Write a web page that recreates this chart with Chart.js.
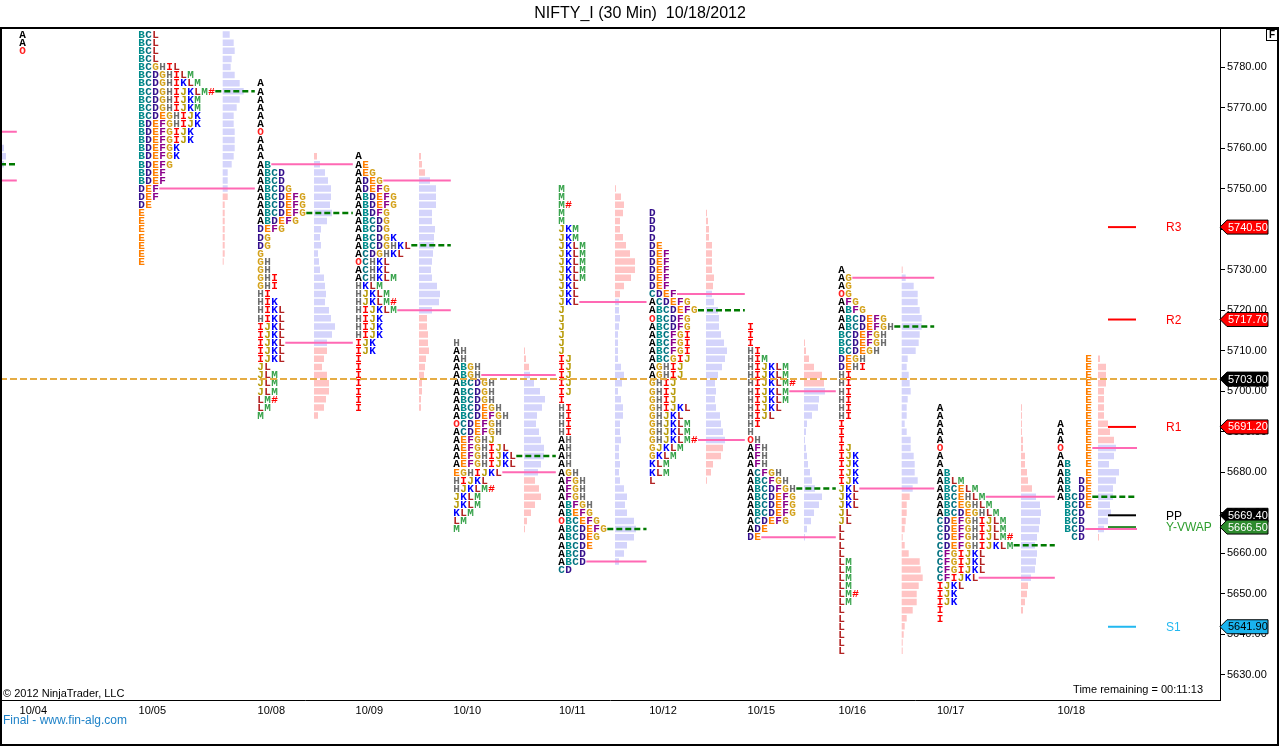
<!DOCTYPE html>
<html>
<head>
<meta charset="utf-8">
<title>NIFTY_I (30 Min) 10/18/2012</title>
<script src="https://cdn.jsdelivr.net/npm/chart.js@4.4.1/dist/chart.umd.min.js"></script>
<style>
  html, body { margin: 0; padding: 0; background: #fff; }
  #wrap { width: 1280px; height: 747px; position: relative; }
</style>
</head>
<body>
<div id="wrap"><canvas id="chart"></canvas></div>
<script>
/* ── Market profile data (NIFTY_I, 30 min TPOs) ─────────────────────────
   Every TPO row / volume bar is one 2-point price step, top row first.  */
const ROW = 2;

const sessionDates = ["10/03", "10/04", "10/05", "10/08", "10/09", "10/10",
                      "10/11", "10/12", "10/15", "10/16", "10/17", "10/18"];

/* top price of the TPO letters for each session */
const tpoTop = [null, 5788, 5788, 5776, 5758, 5712, 5750, 5744, 5716, 5730, 5696, 5708];

const tpo1003 = [];
const tpo1004 = ["A", "A", "O"];
const tpo1005 = ["BCL", "BCL", "BCL", "BCL", "BCGHIL", "BCDGHILM", "BCDGHIKLM", "BCDGHIJKLM#",
  "BCDGHIJKM", "BCDGHIJKM", "BCDEGHIJK", "BDEFGHIJK", "BDEFGIJK", "BDEFGIJK", "BDEFGK", "BDEFGK",
  "BDEFG", "BDEF", "BDEF", "DEF", "DEF", "DE", "E", "E", "E", "E", "E", "E", "E"];
const tpo1008 = ["A", "A", "A", "A", "A", "A", "O", "A", "A", "A", "AB", "ABCD", "ABCD", "ABCDG",
  "ABCDEFG", "ABCDEFG", "ABCDEFG", "ABDEFG", "DEFG", "DG", "DG", "G", "GH", "GH", "GHI", "GHI",
  "HI", "HIK", "HIKL", "HIKL", "IJKL", "IJKL", "IJKL", "IJKL", "IJKL", "JL", "JLM", "JLM", "JLM",
  "LM#", "LM", "M"];
const tpo1009 = ["A", "AE", "AEG", "ADEG", "ADEFG", "ABDEFG", "ABDEFG", "ABDFG", "ABCDG", "ABCDG",
  "ABCDGK", "ABCDGHKL", "ACDGHKL", "OCHKL", "ACHKL", "ACHKLM", "HKLM", "HJKLM", "HJKLM#", "HIJKLM",
  "HIJK", "HIJK", "HIJK", "IJK", "IJK", "I", "I", "I", "I", "I", "I", "I"];
const tpo1010 = ["H", "AH", "AH", "ABGH", "ABGH", "ABCDGH", "ABCDGH", "ABCDGH", "ABCDEGH", "ABCDEFGH",
  "OCDEFGH", "ACDEFGH", "AEFGHJ", "AEFGHIJL", "AEFGHIJKL", "AEFGHIJKL", "EGHIJKL", "HIJKL", "HJKLM#",
  "JKLM", "JKLM", "KLM", "LM", "M"];
const tpo1011 = ["M", "M", "M#", "M", "M", "JKM", "JKM", "JKLM", "JKLM", "JKLM", "JKLM", "JKLM", "JKL",
  "JKL", "JKL", "J", "J", "J", "J", "J", "J", "IJ", "IJ", "IJ", "IJ", "IJ", "I", "HI", "HI", "HI", "HI",
  "AH", "AH", "AH", "AH", "AGH", "AFGH", "AFGH", "AFGH", "ABFGH", "ABEFG", "OBCEFG", "ABCDEFG",
  "ABCDEG", "ABCDE", "ABCD", "ABCD", "CD"];
const tpo1012 = ["D", "D", "D", "D", "DE", "DEF", "DEF", "DEF", "DEF", "DEF", "CDEF", "ACDEFG", "ABCDEFG",
  "OBCDFG", "ABCDFG", "ABCFGI", "ABCFGI", "ABCFGI", "ABCGIJ", "AGHIJ", "AGHIJ", "GHIJ", "GHIJ", "GHIJ",
  "GHIJKL", "GHJKL", "GHJKLM", "GHJKLM", "GHJKLM#", "GJKLM", "GKLM", "KLM", "KLM", "L"];
const tpo1015 = ["I", "I", "I", "HI", "HIM", "HIJKLM", "HIJKLM", "HIJKLM#", "HIJKLM", "HIJKLM", "HIJKL",
  "HIJL", "HI", "H", "OH", "AFH", "AFH", "AFH", "ACFGH", "ABCFGH", "ABCDFGH", "ABCDEFG", "ABCDEFG",
  "ABCDEFG", "ACDEFG", "ADE", "DE"];
const tpo1016 = ["A", "AG", "AG", "OG", "AFG", "ABFG", "ABCDEFG", "ABCDEFGH", "BCDEFGH", "BCDEFGH",
  "BCDEGH", "DEGH", "DEHI", "HI", "HI", "HI", "HI", "HI", "HI", "I", "I", "I", "IJ", "IJK", "IJK", "IJK",
  "IJK", "JKL", "JKL", "JKL", "JL", "JL", "L", "L", "L", "L", "LM", "LM", "LM", "LM", "LM#", "LM",
  "L", "L", "L", "L", "L", "L"];
const tpo1017 = ["A", "A", "A", "A", "A", "O", "A", "A", "AB", "ABLM", "ABCELM", "ABCEHLM", "ABCEGHLM",
  "ABCDEGHLM", "CDEFGHIJLM", "CDEFGHIJLM", "CDEFGHIJLM#", "CDEFGHIJKLM", "CFGIJKL", "CFGIJKL",
  "CFGIJKL", "CFIJKL", "IJKL", "IJK", "IJK", "I", "I"];
/* developing session: letters stay in their own period column */
const tpo1018 = ["    E", "    E", "    E", "    E", "    E", "    E", "    E", "    E", "A   E", "A   E",
  "A   E", "O   E", "A   E", "AB  E", "AB  E", "AB DE", "AB DE", "ABCDE", " BCDE", " BCD", " BCD",
  " BCD", "  CD"];

const tpoRows = [tpo1003, tpo1004, tpo1005, tpo1008, tpo1009, tpo1010,
                 tpo1011, tpo1012, tpo1015, tpo1016, tpo1017, tpo1018];

/* volume profile: top price, relative volume per row, and side (b = blue, p = pink) */
const volTop = [5760, null, 5788, 5758, 5758, 5710, 5750, 5744, 5712, 5730, 5696, 5708];

const vol1003 = [4, 6, 4];
const vol1005 = [7, 11, 12, 9, 8, 12, 17, 21, 17, 14, 11, 11, 12, 12, 12, 11, 9, 5, 5, 5, 5, 2, 2, 2, 2, 2, 2, 2, 1];
const vol1008 = [3, 6, 11, 14, 17, 17, 16, 18, 13, 7, 6, 7, 4, 5, 6, 10, 11, 12, 11, 15, 17, 21, 18, 13,
  13, 10, 8, 13, 15, 15, 12, 10, 4];
const vol1009 = [2, 3, 6, 11, 17, 17, 17, 13, 13, 16, 15, 15, 14, 13, 12, 13, 18, 21, 20, 13, 8, 8, 9, 9,
  10, 7, 6, 5, 3, 3, 2, 2];
const vol1010 = [1, 2, 5, 6, 10, 16, 21, 18, 13, 12, 15, 17, 20, 20, 17, 14, 11, 15, 17, 11, 7, 3, 1];
const vol1011 = [1, 6, 9, 8, 5, 5, 8, 11, 15, 20, 20, 16, 9, 5, 4, 4, 5, 4, 3, 3, 3, 3, 6, 9, 7, 3, 6, 8,
  8, 5, 5, 6, 4, 4, 5, 4, 5, 9, 12, 10, 12, 19, 21, 19, 12, 9, 4];
const vol1012 = [1, 2, 3, 3, 6, 6, 6, 6, 8, 7, 6, 8, 12, 13, 13, 15, 18, 21, 19, 16, 12, 9, 10, 9, 10, 14,
  15, 17, 19, 17, 15, 7, 5, 1];
const vol1015 = [1, 2, 5, 10, 18, 20, 21, 15, 14, 8, 3, 2, 1, 2, 3, 4, 6, 8, 11, 18, 15, 10, 7, 3, 1];
const vol1016 = [1, 4, 12, 16, 16, 18, 20, 20, 18, 17, 14, 6, 5, 7, 8, 9, 6, 5, 5, 3, 5, 9, 9, 12, 13, 13,
  16, 11, 8, 5, 5, 4, 3, 1, 3, 7, 18, 19, 21, 17, 15, 15, 11, 5, 3, 2, 1, 1];
const vol1017 = [1, 1, 1, 1, 2, 2, 4, 4, 6, 7, 11, 15, 19, 20, 19, 18, 16, 14, 16, 15, 14, 10, 7, 6, 4, 2];
const vol1018 = [2, 8, 8, 8, 6, 6, 6, 6, 10, 12, 16, 18, 16, 11, 21, 18, 15, 15, 12, 13, 10, 6, 1];

const volRows = [vol1003, [], vol1005, vol1008, vol1009, vol1010,
                 vol1011, vol1012, vol1015, vol1016, vol1017, vol1018];

const volSide = [
  "bbb", "",
  "bbbbbbbbbbbbbbbbbbbbppppppppp",
  "pbbbbbbbbbbbbbbbbbbbbbbbppppppppp",
  "pppbbbbbbbbbbbbbbbbbpppppppppppp",
  "pppbbbbbbbbbbbbbppppppp",
  "ppppppppppppppbbbbbbbbbbbbbbbbbbbbbbbbbbbbbbbbb",
  "ppppppppppbbbbbbbbbbbbbbbbbbbppppp",
  "ppppppbbbbbbbbbbbbbbbbbbb",
  "pbbbbbbbbbbbbbbbbbbbbbbbbbbbpppppppppppppppppppp",
  "pppppppppppbbbbbbbbbbbpppp",
  "pppppppppppbbbbbbbbbbbp",
];

/* value area high, point of control, value area low */
const vaHigh = [5764, null, null, 5756, 5752, 5704, 5722, 5724, 5700, 5728, 5674, 5686];
const poc    = [5756, null, 5774, 5744, 5736, 5684, 5666, 5720, 5676, 5716, 5662, 5674];
const vaLow  = [5752, null, 5750, 5712, 5720, 5680, 5658, 5688, 5664, 5676, 5654, 5666];

/* floor pivots and yesterday's VWAP */
const pivotNames  = ["R3", "R2", "R1", "PP", "Y-VWAP", "S1"];
const pivotValues = [5740.5, 5717.7, 5691.2, 5669.4, 5666.5, 5641.9];
const lastPrice = 5703.0;

const yTicks = [5630, 5640, 5650, 5660, 5670, 5680, 5690, 5700, 5710, 5720, 5730, 5740, 5750, 5760, 5770, 5780];

/* ── Layout (horizontal positions in chart units = px of the plot) ───── */
const CHAR_W = 7;
const tpoX = [-120, 19.3, 138.3, 257.3, 355.3, 453.3, 558.3, 649, 747.3, 838.3, 936.7, 1057.3];
const volX = [0, 0, 222.7, 314, 419, 524, 615, 706, 804, 901.7, 1021, 1098];
const lastSessionEnd = 1137;
const pivotX = [1108, 1136];
const pivotLabelX = 1166;

const letterColor = {
  A: "#000000", B: "#008b8b", C: "#00707f", D: "#34108c", E: "#ff7f00", F: "#8b008b",
  G: "#d4a21c", H: "#6e6e6e", I: "#ff0000", J: "#b89c0c", K: "#0000ff", L: "#b22222",
  M: "#36a24a", O: "#ff2020", "#": "#ff0000",
};
const pivotColor  = ["#ff0000", "#ff0000", "#ff0000", "#000000", "#2e8b2e", "#22b8f0"];
const markerFill  = { R3: "#ff0000", R2: "#ff0000", R1: "#ff0000", PP: "#000000", "Y-VWAP": "#2e8b2e", S1: "#1ab4ee" };

/* ── Build line segments from the data ──────────────────────────────── */
function segs(list) {
  const pts = [];
  list.forEach(([x0, x1, p]) => pts.push({ x: x0, y: p }, { x: x1, y: p }, { x: x1, y: null }));
  return pts;
}

const volBlue = [], volPink = [];
volRows.forEach((bars, s) => {
  bars.forEach((v, b) => {
    const seg = [volX[s], volX[s] + v, volTop[s] - b * ROW];
    (volSide[s][b] === "p" ? volPink : volBlue).push(seg);
  });
});

function levelStart(s, price) {
  const r = tpoTop[s] == null ? -1 : Math.round((tpoTop[s] - price) / ROW);
  const row = tpoRows[s][r];
  return row ? tpoX[s] + row.trimEnd().length * CHAR_W : volX[s];
}
function sessionEnd(s) {
  return s < sessionDates.length - 1 ? tpoX[s + 1] - 2.5 : lastSessionEnd;
}

const vaSegs = [], pocSegs = [];
sessionDates.forEach((d, s) => {
  [vaHigh[s], vaLow[s]].forEach((p) => {
    if (p != null) vaSegs.push([levelStart(s, p), sessionEnd(s), p]);
  });
  if (poc[s] != null) pocSegs.push([levelStart(s, poc[s]), sessionEnd(s), poc[s]]);
});

function lineDs(label, data, color, width, dash, order) {
  return {
    label, data, showLine: true, borderColor: color, backgroundColor: color,
    borderWidth: width, borderDash: dash, borderCapStyle: "butt",
    pointRadius: 0, pointHoverRadius: 0, spanGaps: false, tension: 0, order,
  };
}

const datasets = [
  lineDs("last", segs([[0, 1220, lastPrice]]), "#e5ac44", 2, [7, 3], 0),
  lineDs("poc", segs(pocSegs), "#007a00", 2.5, [6, 3], 1),
  lineDs("va", segs(vaSegs), "#ff69b4", 2, [], 1),
  ...pivotNames.map((n, i) => lineDs(n, segs([[pivotX[0], pivotX[1], pivotValues[i]]]), pivotColor[i], 2, [], 1)),
  lineDs("volBlue", segs(volBlue), "#d4d4fb", 6.5, [], 2),
  lineDs("volPink", segs(volPink), "#ffc4c4", 6.5, [], 2),
];

/* ── Plugins ────────────────────────────────────────────────────────── */
const tpoLetters = {
  id: "tpoLetters",
  beforeDatasetDraw(chart, args) {
    if (args.index !== 0) return;
    const { ctx, scales: { x, y } } = chart;
    ctx.save();
    ctx.font = "bold 11px 'Liberation Mono', monospace";
    ctx.textBaseline = "middle";
    ctx.textAlign = "left";
    tpoRows.forEach((rows, s) => {
      rows.forEach((row, r) => {
        const py = y.getPixelForValue(tpoTop[s] - r * ROW) + 0.5;
        [...row].forEach((ch, c) => {
          if (ch === " ") return;
          ctx.fillStyle = letterColor[ch];
          ctx.fillText(ch, x.getPixelForValue(tpoX[s] + c * CHAR_W), py);
        });
      });
    });
    ctx.restore();
  },
};

function drawMarker(ctx, x, y, fill, textColor, text) {
  ctx.beginPath();
  ctx.moveTo(x, y);
  ctx.lineTo(x + 7, y - 7);
  ctx.lineTo(x + 48, y - 7);
  ctx.lineTo(x + 48, y + 7);
  ctx.lineTo(x + 7, y + 7);
  ctx.closePath();
  ctx.fillStyle = fill;
  ctx.fill();
  ctx.strokeStyle = "#000";
  ctx.lineWidth = 1;
  ctx.stroke();
  ctx.fillStyle = textColor;
  ctx.fillText(text, x + 8, y + 0.5);
}

const decorations = {
  id: "decorations",
  afterDraw(chart) {
    const { ctx, scales: { x, y } } = chart;
    ctx.save();
    ctx.font = "11px 'Liberation Sans', Arial, sans-serif";
    ctx.textBaseline = "middle";

    // pivot labels
    pivotNames.forEach((n, i) => {
      ctx.fillStyle = n === "Y-VWAP" ? "#2e9e2e" : pivotColor[i];
      ctx.font = "12px 'Liberation Sans', Arial, sans-serif";
      ctx.fillText(n, x.getPixelForValue(pivotLabelX), y.getPixelForValue(pivotValues[i]) + 1);
    });

    // price markers on the right axis
    ctx.font = "11px 'Liberation Sans', Arial, sans-serif";
    const ax = chart.chartArea.right;
    const markers = pivotNames.map((n, i) => ({ v: pivotValues[i], n }));
    markers.splice(2, 0, { v: lastPrice, n: "last" });
    markers.forEach((m) => {
      const fill = m.n === "last" ? "#000000" : markerFill[m.n];
      const tc = m.n === "S1" ? "#000000" : "#ffffff";
      drawMarker(ctx, ax, y.getPixelForValue(m.v), fill, tc, m.v.toFixed(2));
    });

    // texts
    ctx.fillStyle = "#000";
    ctx.fillText("\u00A9 2012 NinjaTrader, LLC", 3, 694);
    ctx.textAlign = "right";
    ctx.fillText("Time remaining = 00:11:13", 1203, 690);
    ctx.textAlign = "left";
    ctx.fillStyle = "#1e82c8";
    ctx.font = "12px 'Liberation Sans', Arial, sans-serif";
    ctx.fillText("Final - www.fin-alg.com", 3, 721);

    // "F" box
    ctx.strokeStyle = "#000";
    ctx.lineWidth = 1;
    ctx.strokeRect(1266.5, 29.5, 11, 11);
    ctx.fillStyle = "#000";
    ctx.font = "bold 10px 'Liberation Sans', Arial, sans-serif";
    ctx.textAlign = "center";
    ctx.fillText("F", 1272, 35.5);

    // outer frame
    ctx.lineWidth = 2;
    ctx.strokeRect(1, 28, 1277, 717);
    ctx.restore();
  },
};

/* ── Chart ──────────────────────────────────────────────────────────── */
new Chart(document.getElementById("chart"), {
  type: "scatter",
  data: { datasets },
  options: {
    responsive: true,
    maintainAspectRatio: false,
    animation: false,
    events: [],
    layout: { padding: 0 },
    plugins: {
      legend: { display: false },
      tooltip: { enabled: false },
      title: {
        display: true,
        text: "NIFTY_I (30 Min)  10/18/2012",
        color: "#000",
        font: { family: "'Liberation Sans', Arial, sans-serif", size: 16, weight: "normal", lineHeight: 1 },
        padding: { top: 6, bottom: 5 },
      },
    },
    scales: {
      x: {
        type: "linear",
        min: 0,
        max: 1220,
        grid: { display: false, drawTicks: false },
        border: { display: true, color: "#000", width: 1 },
        afterBuildTicks: (scale) => {
          scale.ticks = sessionDates
            .map((d, i) => ({ value: tpoX[i] + 14 }))
            .filter((t) => t.value >= 0);
        },
        afterFit: (scale) => { scale.height = 47; },
        ticks: {
          autoSkip: false,
          maxRotation: 0,
          padding: 4,
          color: "#000",
          font: { family: "'Liberation Sans', Arial, sans-serif", size: 11 },
          callback: (v) => sessionDates[tpoX.findIndex((t) => Math.abs(t + 14 - v) < 0.01)],
        },
      },
      y: {
        type: "linear",
        position: "right",
        min: 5623.83,
        max: 5789.87,
        grid: { display: true, drawOnChartArea: false, drawTicks: true, tickLength: 5, color: "#000" },
        border: { display: true, color: "#000", width: 1 },
        afterBuildTicks: (scale) => { scale.ticks = yTicks.map((v) => ({ value: v })); },
        afterFit: (scale) => { scale.width = 60; },
        ticks: {
          autoSkip: false,
          padding: 2,
          color: "#000",
          font: { family: "'Liberation Sans', Arial, sans-serif", size: 11 },
          callback: (v) => Number(v).toFixed(2),
        },
      },
    },
  },
  plugins: [tpoLetters, decorations],
});
</script>
</body>
</html>
